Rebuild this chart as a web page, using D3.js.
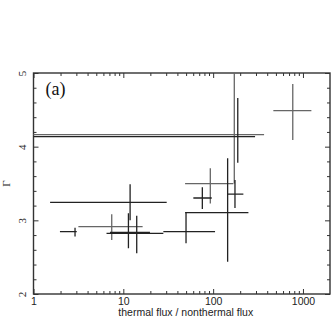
<!DOCTYPE html>
<html>
<head>
<meta charset="utf-8">
<script src="https://cdn.jsdelivr.net/npm/d3@7"></script>
<style>
  body { margin: 0; background: #fff; }
  .axis path { display: none; }
  .axis line { stroke: #333; stroke-width: 1; }
</style>
</head>
<body>
<div id="chart"></div>
<script>
// flux ratio (center, low, high) and photon index Γ (center, low, high)
const ratio   = [172, 188, 770, 93, 75.8, 175, 145, 49.9, 11.9, 7.43, 11.4, 14.1, 2.9];
const ratioLo = [0.5, 0.5, 468, 48.7, 60.2, 143, 48.7, 27.9, 1.53, 3.16, 7.1, 6.5, 1.97];
const ratioHi = [369, 293, 1241, 168, 96.5, 217, 247, 105, 30.4, 16.4, 19.8, 27.9, 3.03];
const gamma   = [4.163, 4.135, 4.488, 3.497, 3.303, 3.357, 3.104, 2.846, 3.245, 2.914, 2.835, 2.824, 2.846];
const gammaLo = [3.50, 3.78, 4.09, 3.23, 3.154, 3.167, 2.439, 2.688, 3.0, 2.733, 2.62, 2.553, 2.78];
const gammaHi = [5.3, 4.66, 4.85, 3.706, 3.448, 3.548, 3.842, 3.104, 3.49, 3.082, 3.096, 3.063, 2.90];

const xTicks = [1, 10, 100, 1000];
const yTicks = [2, 3, 4, 5];

const W = 332, H = 321;
const margin = { top: 73, right: 2, bottom: 27, left: 33.5 };
const width = W - margin.left - margin.right;
const height = H - margin.top - margin.bottom;

// darker strokes for some crosses, grey for others
const shade = i => [0, 2, 3, 9].includes(i) ? "#666" : "#222";

const svg = d3.select("#chart").append("svg")
    .attr("width", W)
    .attr("height", H);

const g = svg.append("g")
    .attr("transform", "translate(" + margin.left + "," + margin.top + ")");

const x = d3.scaleLog().domain([1, 2000]).range([0, width]);
const y = d3.scaleLinear().domain([2, 5]).range([height, 0]);

// minor ticks
const xMinor = [];
for (let d = 1; d <= 1000; d *= 10) {
    for (let k = 2; k <= 9; k++) if (d * k < 2000) xMinor.push(d * k);
}
const yMinor = d3.range(2, 5.001, 0.2).filter(v => Math.abs(v - Math.round(v)) > 0.01);

g.append("g").attr("class", "axis")
    .attr("transform", "translate(0," + height + ")")
    .call(d3.axisBottom(x).tickValues(xMinor).tickSize(-3).tickFormat(""));
g.append("g").attr("class", "axis")
    .attr("transform", "translate(0," + height + ")")
    .call(d3.axisBottom(x).tickValues(xTicks).tickSize(-5).tickPadding(4).tickFormat(d3.format("d")))
    .selectAll("text")
    .attr("font-family", "Liberation Sans, Arial, sans-serif")
    .attr("font-size", "10.5px")
    .attr("fill", "#222");
g.append("g").attr("class", "axis")
    .call(d3.axisTop(x).tickValues(xMinor).tickSize(-3).tickFormat(""));
g.append("g").attr("class", "axis")
    .call(d3.axisTop(x).tickValues(xTicks).tickSize(-5).tickFormat(""));

g.append("g").attr("class", "axis")
    .call(d3.axisLeft(y).tickValues(yMinor).tickSize(-3).tickFormat(""));
const yAx = g.append("g").attr("class", "axis")
    .call(d3.axisLeft(y).tickValues(yTicks).tickSize(-5).tickFormat(d3.format("d")));
yAx.selectAll("text").remove();
yAx.selectAll(".tick").append("text")
    .attr("transform", "translate(-8,0) rotate(-90)")
    .attr("text-anchor", "middle")
    .attr("font-family", "Liberation Serif, Times New Roman, serif")
    .attr("font-size", "11px")
    .attr("fill", "#222")
    .text(d => d);
g.append("g").attr("class", "axis")
    .attr("transform", "translate(" + width + ",0)")
    .call(d3.axisRight(y).tickValues(yMinor).tickSize(-3).tickFormat(""));
g.append("g").attr("class", "axis")
    .attr("transform", "translate(" + width + ",0)")
    .call(d3.axisRight(y).tickValues(yTicks).tickSize(-5).tickFormat(""));

// frame
g.append("rect")
    .attr("width", width)
    .attr("height", height)
    .attr("fill", "none")
    .attr("stroke", "#333")
    .attr("stroke-width", 1.4);

// error crosses
g.append("clipPath").attr("id", "clip")
    .append("rect").attr("width", width).attr("height", height);

const crosses = g.append("g").attr("clip-path", "url(#clip)")
    .selectAll("g")
    .data(ratio.map((r, i) => i))
    .enter().append("g")
    .attr("stroke", i => shade(i))
    .attr("stroke-width", 1.3);

crosses.append("line")
    .attr("x1", i => x(ratioLo[i]))
    .attr("x2", i => x(ratioHi[i]))
    .attr("y1", i => y(gamma[i]))
    .attr("y2", i => y(gamma[i]));
crosses.append("line")
    .attr("x1", i => x(ratio[i]))
    .attr("x2", i => x(ratio[i]))
    .attr("y1", i => y(gammaLo[i]))
    .attr("y2", i => y(gammaHi[i]));

// labels
g.append("text")
    .attr("x", 12)
    .attr("y", 22)
    .attr("font-family", "Liberation Serif, Times New Roman, serif")
    .attr("font-size", "18px")
    .attr("fill", "#111")
    .text("(a)");

svg.append("text")
    .attr("transform", "translate(10," + (margin.top + height / 2) + ") rotate(-90)")
    .attr("text-anchor", "middle")
    .attr("font-family", "Liberation Serif, Times New Roman, serif")
    .attr("font-size", "11px")
    .attr("fill", "#222")
    .text("Γ");

svg.append("text")
    .attr("x", margin.left + width / 2 + 4)
    .attr("y", 316)
    .attr("text-anchor", "middle")
    .attr("font-family", "Liberation Sans, Arial, sans-serif")
    .attr("font-size", "10.5px")
    .attr("fill", "#222")
    .text("thermal flux / nonthermal flux");
</script>
</body>
</html>
